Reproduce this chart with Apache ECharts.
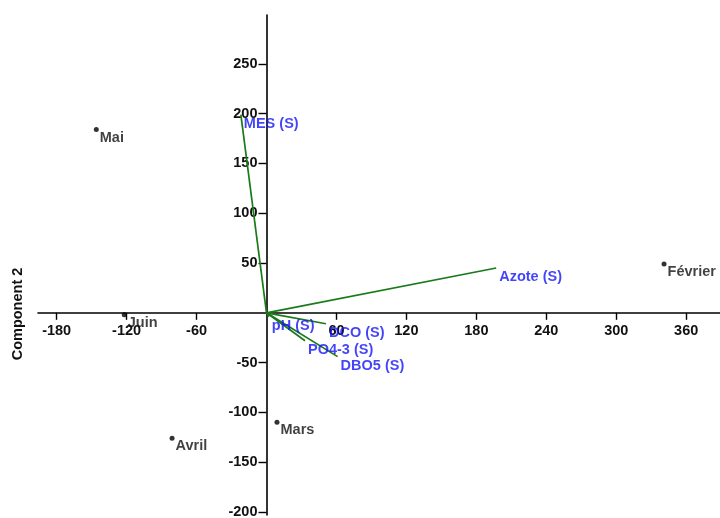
<!DOCTYPE html>
<html><head><meta charset="utf-8">
<script src="https://cdn.jsdelivr.net/npm/echarts@6/dist/echarts.min.js"></script>
<style>html,body{margin:0;padding:0;background:#fff}#c{width:720px;height:518px}</style>
</head><body><div id="c"></div>
<script>
const xTicks = [-180, -120, -60, 60, 120, 180, 240, 300, 360];
const yTicks = [-200, -150, -100, -50, 50, 100, 150, 200, 250];
const pointNames = ['Mai', 'Juin', 'Avril', 'Mars', 'Février'];
const pointX = [-146, -122, -81, 9, 341];
const pointY = [184, -2, -126, -110, 49];
const varNames = ['MES (S)', 'Azote (S)', 'pH (S)', 'DCO (S)', 'PO4-3 (S)', 'DBO5 (S)'];
const varX = [-22, 197, 2, 51, 33, 61];
const varY = [199, 45, -4, -11, -28, -44];

const font = 'Liberation Sans, Arial, sans-serif';
const fs = 14.5;
const series = [];
varNames.forEach((n, i) => {
  series.push({
    type: 'line', data: [[0, 0], [varX[i], varY[i]]], symbol: 'none', silent: true,
    lineStyle: { color: '#1a7a1a', width: 1.7 }, z: 2
  });
});
series.push({
  type: 'scatter', symbolSize: 0, z: 4,
  data: varNames.map((n, i) => ({ name: n, value: [varX[i], varY[i]] })),
  label: { show: true, formatter: '{b}', position: [3, 2], align: 'left', verticalAlign: 'top',
    color: '#1414f8', fontSize: fs, fontWeight: 'bold', fontFamily: font }
});
series.push({
  type: 'scatter', symbolSize: 5, z: 5,
  itemStyle: { color: '#000' },
  data: pointNames.map((n, i) => ({ name: n, value: [pointX[i], pointY[i]] })),
  label: { show: true, formatter: '{b}', position: [6, 3], align: 'left', verticalAlign: 'top',
    color: '#111', fontSize: fs, fontWeight: 'bold', fontFamily: font }
});

const chart = echarts.init(document.getElementById('c'));
const gridLeft = 38, gridTop = 15, gridH = 500;
function buildOption(xOff, yOff) {
  return {
    animation: false,
    grid: { left: gridLeft, right: 0, top: gridTop, height: gridH, outerBoundsMode: 'none', containLabel: false },
    xAxis: {
      type: 'value', min: -196, max: 389, position: 'bottom', offset: xOff,
      splitLine: { show: false },
      axisLine: { onZero: false, lineStyle: { color: '#000', width: 1.6 } },
      axisTick: { show: true, inside: false, length: 7, customValues: xTicks, lineStyle: { color: '#000', width: 1.4 } },
      axisLabel: { customValues: xTicks, margin: 11, color: '#111', fontSize: fs, fontWeight: 'bold', fontFamily: font }
    },
    yAxis: {
      type: 'value', min: -203, max: 299, position: 'left', offset: yOff,
      splitLine: { show: false },
      axisLine: { onZero: false, lineStyle: { color: '#000', width: 1.6 } },
      axisTick: { show: true, inside: false, length: 8, customValues: yTicks, lineStyle: { color: '#000', width: 1.4 } },
      axisLabel: { customValues: yTicks, margin: 9, color: '#111', fontSize: fs, fontWeight: 'bold', fontFamily: font }
    },
    graphic: [{
      type: 'text', x: 18, y: 314, rotation: Math.PI / 2,
      style: { text: 'Component 2', fill: '#111', fontSize: fs, fontWeight: 'bold', fontFamily: font, align: 'center', verticalAlign: 'middle' }
    }],
    series: series
  };
}
chart.setOption(buildOption(0, 0));
// place the axes through the origin, using the library's own scale
const origin = chart.convertToPixel({ gridIndex: 0 }, [0, 0]);
chart.setOption(buildOption(-(gridTop + gridH - origin[1]), -(origin[0] - gridLeft)));
</script></body></html>
